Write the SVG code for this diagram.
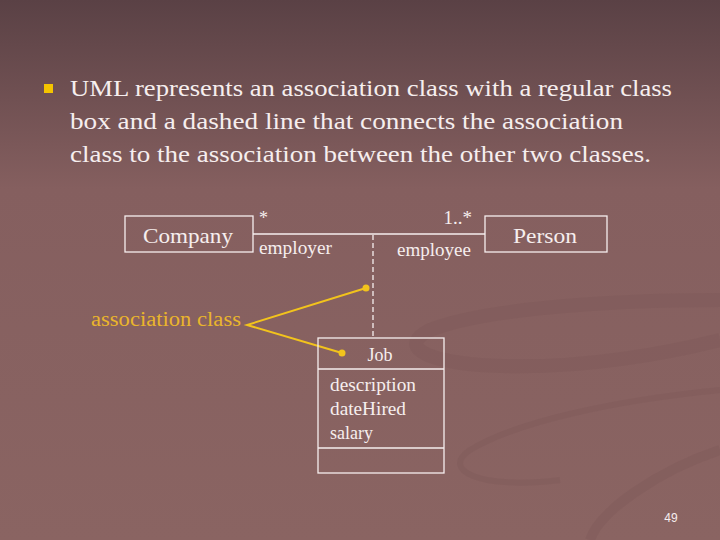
<svg xmlns="http://www.w3.org/2000/svg" width="720" height="540" viewBox="0 0 720 540">
<defs>
<linearGradient id="bg" x1="0" y1="0" x2="0" y2="1">
<stop offset="0" stop-color="#5a4145"/>
<stop offset="0.35" stop-color="#855f5f"/>
<stop offset="1" stop-color="#8a6462"/>
</linearGradient>
<style>
.t{font-family:"Liberation Serif","DejaVu Serif",serif;fill:#f6eeee}
.box{fill:none;stroke:#f6eeee;stroke-width:1.3}
.line{stroke:#f6eeee;stroke-width:1.3;fill:none}
.y{stroke:#f2c31c;stroke-width:2;fill:none}
.dot{fill:#f2c31c}
.sw{fill:none;stroke:#7a5656;stroke-opacity:0.3}
</style>
</defs>
<rect width="720" height="540" fill="url(#bg)"/>
<g id="decor">
<path class="sw" stroke-width="14" d="M720 300 C600 300 480 310 430 330 C400 345 420 360 480 365 C580 372 680 350 720 340"/>
<path class="sw" stroke-width="6" d="M720 390 C620 400 520 420 470 450 C440 470 480 490 560 480"/>
<path class="sw" stroke-width="10" d="M720 450 C660 470 600 510 590 540"/>
</g>
<g id="text">
<rect x="44" y="84" width="9" height="9" fill="#f4c400"/>
<text class="t" font-size="23" x="70" y="96" textLength="602" lengthAdjust="spacingAndGlyphs">UML represents an association class with a regular class</text>
<text class="t" font-size="23" x="70" y="129" textLength="553" lengthAdjust="spacingAndGlyphs">box and a dashed line that connects the association</text>
<text class="t" font-size="23" x="70" y="162" textLength="581" lengthAdjust="spacingAndGlyphs">class to the association between the other two classes.</text>
</g>
<g id="connectors">
<line class="line" x1="253" y1="234" x2="485" y2="234"/>
<line class="line" x1="373" y1="235" x2="373" y2="338" stroke-dasharray="5,3"/>
<polyline class="y" points="366,288 247,325 342,353"/>
<circle class="dot" cx="366" cy="288" r="3.5"/>
<circle class="dot" cx="342" cy="353" r="3.5"/>
<text class="t" font-size="18" x="259" y="224">*</text>
<text class="t" font-size="19" x="472" y="224" text-anchor="end">1..*</text>
<text class="t" font-size="18" x="259" y="254" textLength="73" lengthAdjust="spacingAndGlyphs">employer</text>
<text class="t" font-size="18" x="397" y="256" textLength="74" lengthAdjust="spacingAndGlyphs">employee</text>
</g>
<g id="company">
<rect class="box" x="125" y="216" width="128" height="36"/>
<text class="t" font-size="22" x="143" y="243" textLength="90" lengthAdjust="spacingAndGlyphs">Company</text>
</g>
<g id="person">
<rect class="box" x="485" y="216" width="122" height="36"/>
<text class="t" font-size="22" x="513" y="243" textLength="64" lengthAdjust="spacingAndGlyphs">Person</text>
</g>
<g id="job">
<rect class="box" x="318" y="338" width="126" height="135"/>
<line class="line" x1="318" y1="369" x2="444" y2="369"/>
<line class="line" x1="318" y1="448" x2="444" y2="448"/>
<text class="t" font-size="18" x="380" y="361" text-anchor="middle">Job</text>
<text class="t" font-size="19" x="330" y="391" textLength="86" lengthAdjust="spacingAndGlyphs">description</text>
<text class="t" font-size="19" x="330" y="415" textLength="76" lengthAdjust="spacingAndGlyphs">dateHired</text>
<text class="t" font-size="19" x="330" y="439" textLength="43" lengthAdjust="spacingAndGlyphs">salary</text>
</g>
<g id="assoc-label">
<text font-family="Liberation Serif, serif" font-size="20" fill="#eab52c" x="91" y="326" textLength="150" lengthAdjust="spacingAndGlyphs">association class</text>
</g>
<text font-family="Liberation Sans, Arial, sans-serif" font-size="12" fill="#f6eeee" x="671" y="522" text-anchor="middle">49</text>
</svg>
